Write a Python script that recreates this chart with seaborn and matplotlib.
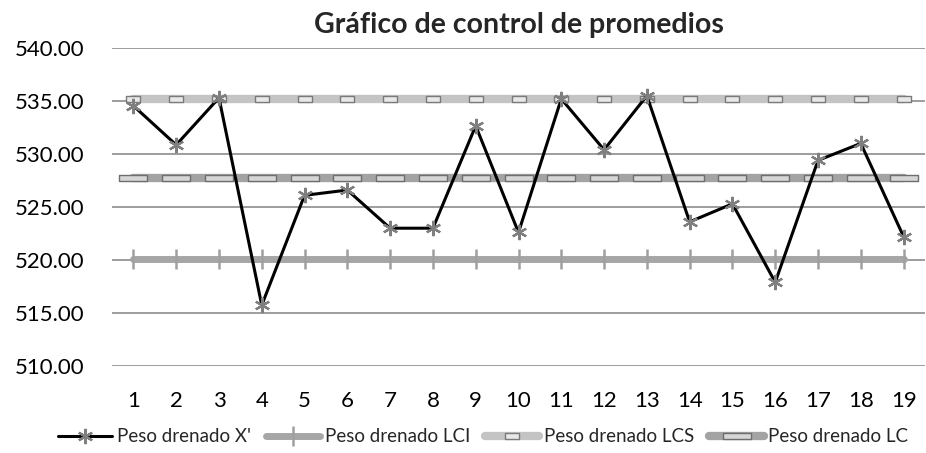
import numpy as np
import pandas as pd
import matplotlib
matplotlib.use("Agg")
import matplotlib.pyplot as plt
import seaborn as sns

muestras = list(range(1, 20))
peso_x = [534.55, 530.86, 535.3, 515.74, 526.1, 526.6, 523.0, 523.0, 532.66, 522.6,
          535.2, 530.4, 535.5, 523.6, 525.3, 517.9, 529.4, 531.0, 522.2]
lci = [520.08] * 19
lcs = [535.18] * 19
lc = [527.71] * 19

sns.set_theme(style="white")
plt.rcParams['font.family'] = ['Lato', 'DejaVu Sans']

fig = plt.figure(figsize=(9.26, 4.53), dpi=100)
ax = fig.add_axes([112 / 926, 1 - 366 / 453, 813 / 926, 318 / 453])

df = pd.DataFrame({"muestra": muestras, "x": peso_x, "lci": lci, "lcs": lcs, "lc": lc})

def barra(w, h):
    return np.array([[-w, -h], [w, -h], [w, h], [-w, h], [-w, -h]])

sns.lineplot(data=df, x="muestra", y="lci", ax=ax, color="#a6a6a6", lw=5,
             marker="|", markersize=14, markeredgewidth=1.8, markeredgecolor="#a0a0a0",
             label="Peso drenado LCI", zorder=3)
sns.lineplot(data=df, x="muestra", y="lcs", ax=ax, color="#c4c4c4", lw=6,
             marker=barra(2.0, 0.9), markersize=10, markerfacecolor="#e8e8e8",
             markeredgecolor="#7a7a7a", markeredgewidth=1, label="Peso drenado LCS", zorder=3)
sns.lineplot(data=df, x="muestra", y="lc", ax=ax, color="#a3a3a3", lw=6,
             marker=barra(4.0, 0.9), markersize=20, markerfacecolor="#d6d6d6",
             markeredgecolor="#6e6e6e", markeredgewidth=1, label="Peso drenado LC", zorder=3)
sns.lineplot(data=df, x="muestra", y="x", ax=ax, color="black", lw=2.2,
             marker=(6, 2, 0), markersize=11, markeredgewidth=1.6, markeredgecolor="#7f7f7f",
             label="Peso drenado X'", zorder=4)

ax.set_xlim(0.5, 19.5)
ax.set_ylim(510, 540)
ax.set_yticks(np.arange(510, 541, 5))
ax.set_yticklabels([f"{v:.2f}" for v in np.arange(510, 541, 5)])
ax.set_xticks(muestras)
ax.tick_params(axis="both", labelsize=16, length=0, labelcolor="black")
ax.tick_params(axis="x", pad=18)
ax.tick_params(axis="y", pad=20)
ax.grid(axis="y", color="#8c8c8c", lw=1.2)
ax.set_axisbelow(True)
for s in ax.spines.values():
    s.set_visible(False)
ax.set_xlabel("")
ax.set_ylabel("")
ax.set_title("Gráfico de control de promedios", fontsize=20.5, fontweight="bold", pad=11)

handles, labels = ax.get_legend_handles_labels()
order = [labels.index(l) for l in ["Peso drenado X'", "Peso drenado LCI", "Peso drenado LCS", "Peso drenado LC"]]
ax.legend([handles[i] for i in order], [labels[i] for i in order], loc="center",
          bbox_to_anchor=((483 - 112) / 813, -(437 - 366) / 318), ncol=4, frameon=False,
          fontsize=13.5, handlelength=2.9, handletextpad=0.25, columnspacing=0.8, borderaxespad=0,
          borderpad=0)

fig.savefig("out.png", dpi=100)
